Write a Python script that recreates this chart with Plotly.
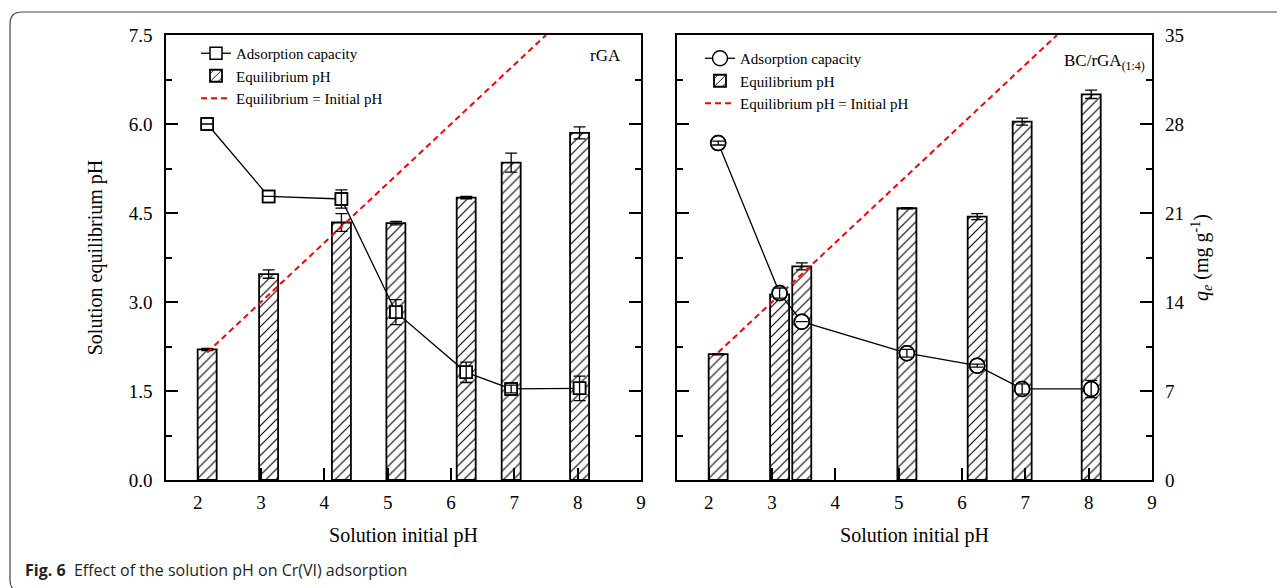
import plotly.graph_objects as go

# ---------------- data ----------------
ph_init_rga = [2.15, 3.12, 4.27, 5.13, 6.24, 6.95, 8.03]
ph_eq_rga = [2.20, 3.47, 4.34, 4.33, 4.76, 5.35, 5.85]
ph_eq_rga_err = [0.02, 0.07, 0.15, 0.03, 0.02, 0.16, 0.10]
qe_rga = [28.0, 22.3, 22.1, 13.2, 8.47, 7.16, 7.21]
qe_rga_err = [0.0, 0.0, 0.72, 0.98, 0.8, 0.3, 0.96]

ph_init_bc = [2.15, 3.12, 3.47, 5.13, 6.24, 6.95, 8.04]
ph_eq_bc = [2.12, 3.13, 3.60, 4.58, 4.44, 6.04, 6.50]
ph_eq_bc_err = [0.01, 0.03, 0.06, 0.01, 0.05, 0.06, 0.07]
qe_bc = [26.5, 14.7, 12.45, 9.97, 8.99, 7.16, 7.16]
qe_bc_err = [0.15, 0.4, 0.0, 0.3, 0.12, 0.4, 0.68]

identity_x = [2.15, 7.5]
ph_ticks = [0, 1.5, 3.0, 4.5, 6.0, 7.5]
qe_ticks = [0, 7, 14, 21, 28, 35]
x_ticks = [2, 3, 4, 5, 6, 7, 8, 9]

OFF = 8  # page body margin
W, H = 1285 - OFF, 588 - OFF
SERIF = "Liberation Serif, Times New Roman, serif"

def px_x(p):
    return (p - OFF) / W

def px_y(p):
    return 1 - (p - OFF) / H

fig = go.Figure()

bar_style = dict(
    marker=dict(color="white", line=dict(color="black", width=1.8),
                pattern=dict(shape="/", fgcolor="black", bgcolor="white", size=7, solidity=0.16)),
    width=0.3,
)
err_style = dict(type="data", color="black", thickness=1.3, width=6, visible=True)

# ---------- left panel (rGA) ----------
fig.add_trace(go.Bar(x=ph_init_rga, y=ph_eq_rga, name="Equilibrium pH",
                     error_y=dict(array=ph_eq_rga_err, **err_style),
                     xaxis="x", yaxis="y", legend="legend", legendrank=2, **bar_style))
fig.add_trace(go.Scatter(x=identity_x, y=identity_x, mode="lines", name="Equilibrium = Initial pH",
                         line=dict(color="#ff0000", width=2, dash="6px,4px"),
                         xaxis="x", yaxis="y", legend="legend", legendrank=3))
fig.add_trace(go.Scatter(x=ph_init_rga, y=qe_rga, mode="lines+markers", name="Adsorption capacity",
                         line=dict(color="black", width=1.3),
                         marker=dict(symbol="square", size=12, color="white",
                                     line=dict(color="black", width=1.5)),
                         xaxis="x", yaxis="y2", legend="legend", legendrank=1))
fig.add_trace(go.Scatter(x=ph_init_rga, y=qe_rga, mode="markers", showlegend=False,
                         marker=dict(symbol="square-open", size=12, color="black",
                                     line=dict(color="black", width=1.5)),
                         error_y=dict(array=qe_rga_err, **err_style),
                         xaxis="x", yaxis="y2"))

# ---------- right panel (BC/rGA) ----------
fig.add_trace(go.Bar(x=ph_init_bc, y=ph_eq_bc, name="Equilibrium pH",
                     error_y=dict(array=ph_eq_bc_err, **err_style),
                     xaxis="x2", yaxis="y3", legend="legend2", legendrank=2, **bar_style))
fig.add_trace(go.Scatter(x=identity_x, y=identity_x, mode="lines", name="Equilibrium pH = Initial pH",
                         line=dict(color="#ff0000", width=2, dash="6px,4px"),
                         xaxis="x2", yaxis="y3", legend="legend2", legendrank=3))
fig.add_trace(go.Scatter(x=ph_init_bc, y=qe_bc, mode="lines+markers", name="Adsorption capacity",
                         line=dict(color="black", width=1.3),
                         marker=dict(symbol="circle", size=15, color="white",
                                     line=dict(color="black", width=1.5)),
                         xaxis="x2", yaxis="y4", legend="legend2", legendrank=1))
fig.add_trace(go.Scatter(x=ph_init_bc, y=qe_bc, mode="markers", showlegend=False,
                         marker=dict(symbol="circle-open", size=15, color="black",
                                     line=dict(color="black", width=1.5)),
                         error_y=dict(array=qe_bc_err, **err_style),
                         xaxis="x2", yaxis="y4"))

ydom = [px_y(480), px_y(35)]
tickfont = dict(family=SERIF, size=19, color="black")
titlefont = dict(family=SERIF, size=20, color="black")

xcommon = dict(range=[1.5, 9], tickvals=x_ticks, ticks="inside", ticklen=12, tickwidth=1.5,
               tickcolor="black", showline=True, linewidth=1.6, linecolor="black", mirror=True,
               showgrid=False, zeroline=False, tickfont=tickfont, automargin=False,
               ticklabelstandoff=4,
               title=dict(text="Solution initial pH", font=titlefont, standoff=16))
ycommon = dict(range=[0, 7.5], tickvals=ph_ticks, tickformat=".1f", ticks="inside", ticklen=12,
               tickwidth=1.5, tickcolor="black", showline=True, linewidth=1.6, linecolor="black",
               mirror="ticks", showgrid=False, zeroline=False, tickfont=tickfont, automargin=False,
               minor=dict(dtick=0.75, ticks="inside", ticklen=6, tickwidth=1.5, tickcolor="black",
                          showgrid=False),
               domain=ydom)

legfont = dict(family=SERIF, size=15, color="black")

fig.update_layout(
    width=W, height=H, margin=dict(l=0, r=0, t=0, b=0),
    template="none", paper_bgcolor="white", plot_bgcolor="white",
    barmode="overlay",
    xaxis=dict(domain=[px_x(166), px_x(641)], anchor="y", **xcommon),
    yaxis=dict(anchor="x", ticklabelstandoff=8,
               title=dict(text="Solution equilibrium pH", font=titlefont, standoff=21),
               **ycommon),
    yaxis2=dict(overlaying="y", anchor="x", side="right", range=[0, 35], visible=False,
                showgrid=False, zeroline=False),
    xaxis2=dict(domain=[px_x(677), px_x(1152)], anchor="y3", **xcommon),
    yaxis3=dict(anchor="x2", showticklabels=False, **ycommon),
    yaxis4=dict(overlaying="y3", anchor="x2", side="right", range=[0, 35], tickvals=qe_ticks,
                ticks="", showline=False, showgrid=False, zeroline=False, tickfont=tickfont,
                automargin=False, ticklabelstandoff=12,
                title=dict(text="<i>q<sub>e</sub></i> (mg g<sup>-1</sup>)", font=titlefont,
                           standoff=10)),
    legend=dict(x=px_x(196), y=px_y(37), xanchor="left", yanchor="top",
                bgcolor="rgba(0,0,0,0)", font=legfont, tracegroupgap=0, itemsizing="trace"),
    legend2=dict(x=px_x(700), y=px_y(42), xanchor="left", yanchor="top",
                 bgcolor="rgba(0,0,0,0)", font=legfont, tracegroupgap=0, itemsizing="trace"),
    showlegend=True,
)

# panel labels
fig.add_annotation(text="rGA", x=px_x(623), y=px_y(55), xref="paper", yref="paper",
                   xanchor="right", yanchor="middle", showarrow=False,
                   font=dict(family=SERIF, size=17, color="black"))
fig.add_annotation(text="BC/rGA<sub>(1:4)</sub>", x=px_x(1147), y=px_y(62), xref="paper",
                   yref="paper", xanchor="right", yanchor="middle", showarrow=False,
                   font=dict(family=SERIF, size=17, color="black"))

# caption
fig.add_annotation(text="<b>Fig. 6</b>  Effect of the solution pH on Cr(VI) adsorption",
                   x=px_x(23), y=px_y(570), xref="paper", yref="paper", xanchor="left",
                   yanchor="middle", showarrow=False,
                   font=dict(family="Open Sans, Noto Sans, sans-serif", size=16, color="#231f20"))

# rounded frame
x0, yt, yb = px_x(10), px_y(12), px_y(592)
rx, ry = 12 / W, 12 / H
path = (f"M {x0+rx},{yb} Q {x0},{yb} {x0},{yb+ry} L {x0},{yt-ry} "
        f"Q {x0},{yt} {x0+rx},{yt} L 1.01,{yt}")
fig.add_shape(type="path", path=path, xref="paper", yref="paper",
              line=dict(color="#444444", width=1.2), layer="above")

fig.write_html("out.html")
